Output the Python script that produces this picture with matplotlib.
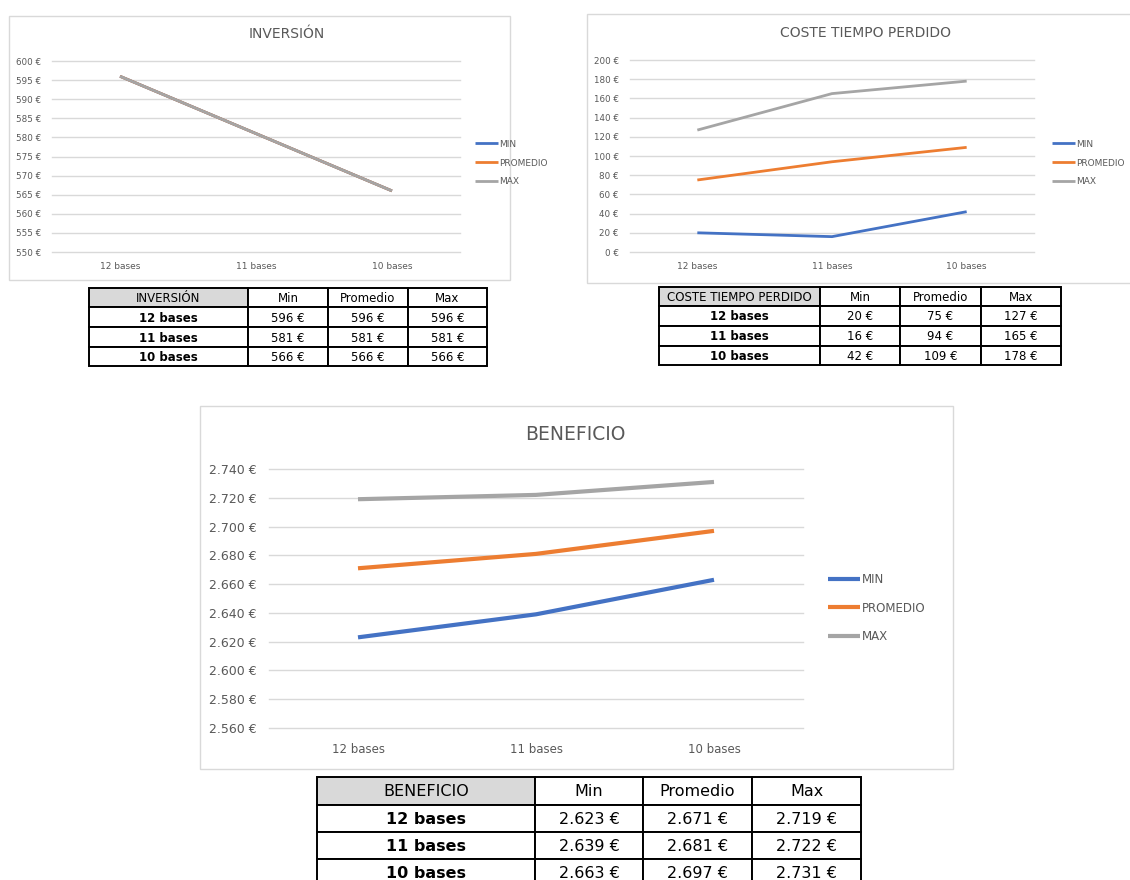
import matplotlib
matplotlib.use('Agg')
import matplotlib.pyplot as plt
from matplotlib.patches import Rectangle

plt.rcParams['font.family'] = ['DejaVu Sans']

# Data
categories = ['12 bases', '11 bases', '10 bases']
series_names = ['MIN', 'PROMEDIO', 'MAX']
col_headers = ['Min', 'Promedio', 'Max']

inversion_min = [596, 581, 566]
inversion_prom = [596, 581, 566]
inversion_max = [596, 581, 566]

coste_min = [20, 16, 42]
coste_prom = [75, 94, 109]
coste_max = [127, 165, 178]

beneficio_min = [2623, 2639, 2663]
beneficio_prom = [2671, 2681, 2697]
beneficio_max = [2719, 2722, 2731]

colors = ['#4472C4', '#ED7D31', '#A5A5A5']
GRID = '#D9D9D9'
TXT = '#595959'

W, H = 1130, 880
fig = plt.figure(figsize=(W / 100, H / 100), dpi=100)
fig.patch.set_facecolor('white')

# overlay in pixel coordinates for frames and tables
ov = fig.add_axes([0, 0, 1, 1], zorder=0)
ov.set_xlim(0, W)
ov.set_ylim(H, 0)
ov.axis('off')


def rect(x0, y0, x1, y1):
    return [x0 / W, 1 - y1 / H, (x1 - x0) / W, (y1 - y0) / H]


def euro(v):
    return f"{v:,}".replace(',', '.') + ' €'


def line_chart(box, ylim, step, series, lw, fs_tick, fs_x, xpad, ypad):
    ax = fig.add_axes(rect(*box), zorder=2)
    ax.patch.set_alpha(0)
    x = range(len(categories))
    for vals, c, name in zip(series, colors, series_names):
        ax.plot(x, vals, color=c, lw=lw, label=name, solid_capstyle='butt', zorder=3)
    ax.set_xlim(-0.5, len(categories) - 0.5)
    ax.set_ylim(*ylim)
    ticks = list(range(ylim[0], ylim[1] + 1, step))
    ax.set_yticks(ticks)
    ax.set_yticklabels([euro(t) for t in ticks], fontsize=fs_tick, color=TXT)
    ax.set_xticks(list(x))
    ax.set_xticklabels(categories, fontsize=fs_x, color=TXT)
    ax.tick_params(length=0)
    ax.tick_params(axis='y', pad=ypad)
    ax.tick_params(axis='x', pad=xpad)
    ax.grid(axis='y', color=GRID, lw=1, zorder=0)
    for g in ax.get_ygridlines():
        g.set_clip_on(False)
    for s in ax.spines.values():
        s.set_visible(False)
    return ax


def legend(ax, x, y, fs, lw, spacing, hl):
    ax.legend(loc='center left', bbox_to_anchor=(x / W, 1 - y / H),
              bbox_transform=fig.transFigure, frameon=False, fontsize=fs,
              labelcolor=TXT, handlelength=hl, handletextpad=0.2,
              labelspacing=spacing, borderpad=0, borderaxespad=0)
    for h in ax.get_legend().get_lines():
        h.set_linewidth(lw)


def table(title, x_edges, y_edges, cols, fs):
    rows = list(zip(*cols))
    for r in range(len(y_edges) - 1):
        for c in range(len(x_edges) - 1):
            x0, x1 = x_edges[c], x_edges[c + 1]
            y0, y1 = y_edges[r], y_edges[r + 1]
            fc = '#D9D9D9' if (r == 0 and c == 0) else 'white'
            ov.add_patch(Rectangle((x0, y0), x1 - x0, y1 - y0, facecolor=fc,
                                   edgecolor='black', lw=1.4, zorder=3))
            if r == 0:
                txt = title if c == 0 else col_headers[c - 1]
                weight = 'normal'
            elif c == 0:
                txt = categories[r - 1]
                weight = 'bold'
            else:
                txt = euro(rows[r - 1][c - 1])
                weight = 'normal'
            ov.text((x0 + x1) / 2, (y0 + y1) / 2 + 1, txt, ha='center', va='center',
                    fontsize=fs, fontweight=weight, color='black', zorder=4)


# frames
for x0, y0, x1, y1 in [(9, 16, 510, 280), (587, 14, 1140, 283), (200, 406, 953, 769)]:
    ov.add_patch(Rectangle((x0, y0), x1 - x0, y1 - y0, facecolor='white',
                           edgecolor=GRID, lw=1, zorder=1))

# INVERSIÓN
ax1 = line_chart((52, 61, 460, 252), (550, 600), 5,
                 [inversion_min, inversion_prom, inversion_max], 2, 6.3, 6.5, 7, 8)
ov.text(287, 34, 'INVERSIÓN', ha='center', va='center', fontsize=10, color=TXT, zorder=5)
legend(ax1, 475, 163, 6.5, 2, 1.1, 2.5)

# COSTE TIEMPO PERDIDO
ax2 = line_chart((630, 60, 1034, 252), (0, 200), 20,
                 [coste_min, coste_prom, coste_max], 2, 6.3, 6.5, 7, 8)
ov.text(865, 33, 'COSTE TIEMPO PERDIDO', ha='center', va='center', fontsize=10, color=TXT, zorder=5)
legend(ax2, 1052, 163, 6.5, 2, 1.1, 2.5)

# BENEFICIO
ax3 = line_chart((269, 469, 803, 728), (2560, 2740), 20,
                 [beneficio_min, beneficio_prom, beneficio_max], 3, 9, 8.5, 11, 9)
ov.text(575, 434, 'BENEFICIO', ha='center', va='center', fontsize=13.5, color=TXT, zorder=5)
legend(ax3, 828, 608, 8.5, 3, 1.3, 2.7)

# tables
table('INVERSIÓN', [89, 248, 328, 408, 487], [288, 307, 327, 347, 366],
      [inversion_min, inversion_prom, inversion_max], 8.5)
table('COSTE TIEMPO PERDIDO', [659, 820, 900, 981, 1061], [287, 306, 326, 346, 365],
      [coste_min, coste_prom, coste_max], 8.5)
table('BENEFICIO', [317, 535, 643, 752, 861], [777, 805, 832, 859, 886],
      [beneficio_min, beneficio_prom, beneficio_max], 11.5)

fig.savefig('out.png', dpi=100)
